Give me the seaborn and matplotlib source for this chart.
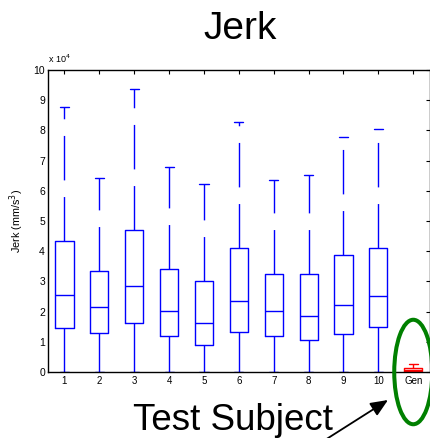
import numpy as np
import pandas as pd
import seaborn as sns
import matplotlib
matplotlib.use("Agg")
import matplotlib.pyplot as plt
from matplotlib.patches import Ellipse

# Values in units of 10^4 mm/s^3
groups = ['1', '2', '3', '4', '5', '6', '7', '8', '9', '10', 'Gen']
whisker_low = [0, 0, 0, 0, 0, 0, 0, 0, 0, 0, 0]
q1 = [1.45, 1.28, 1.61, 1.18, 0.88, 1.31, 1.20, 1.05, 1.26, 1.50, 0.02]
median = [2.56, 2.14, 2.84, 2.02, 1.63, 2.35, 2.02, 1.84, 2.23, 2.52, 0.06]
q3 = [4.35, 3.33, 4.70, 3.42, 3.01, 4.12, 3.25, 3.25, 3.86, 4.10, 0.12]
whisker_high = [8.77, 6.41, 9.36, 6.80, 6.23, 8.29, 6.35, 6.51, 7.77, 8.04, 0.25]
box_colors = ['#0000ff'] * 10 + ['#ff0000']

rows = []
for g, lo, a, m, b, hi in zip(groups, whisker_low, q1, median, q3, whisker_high):
    for v in (lo, a, m, b, hi):
        rows.append({'group': g, 'value': v})
df = pd.DataFrame(rows)

sns.set_style("white")
plt.rcParams['font.family'] = ['Liberation Sans', 'DejaVu Sans']
plt.rcParams['lines.scale_dashes'] = False
plt.rcParams['text.color'] = 'black'
plt.rcParams['axes.labelcolor'] = 'black'
plt.rcParams['xtick.color'] = 'black'
plt.rcParams['ytick.color'] = 'black'

fig = plt.figure(figsize=(4.30, 4.38), dpi=100)
ax = fig.add_axes([47.7 / 430, 1 - 372 / 438, 1 - 47.7 / 430, (372 - 70) / 438])

sns.boxplot(data=df, x='group', y='value', hue='group', order=groups,
            hue_order=groups, palette=dict(zip(groups, box_colors)),
            fill=False, width=0.52, whis=(0, 100), linewidth=1.0,
            showfliers=False, legend=False, ax=ax)

# MATLAB-style dashed upper whiskers (dash pattern starts at the box)
for ln in ax.lines:
    xd = np.asarray(ln.get_xdata(), dtype=float)
    yd = np.asarray(ln.get_ydata(), dtype=float)
    if len(xd) == 2 and np.isclose(xd[0], xd[1]) and min(yd) > 0.05:
        ln.set_data(xd, np.sort(yd))
        ln.set_linestyle((0, (32, 12)))

ax.set_xlim(-0.48, 10.48)
ax.set_ylim(0, 10)
ax.set_yticks(range(0, 11))
ax.set_yticklabels([str(i) for i in range(0, 11)], fontsize=7.5)
ax.set_xticks(range(len(groups)))
ax.set_xticklabels(groups, fontsize=7)
ax.tick_params(axis='both', direction='in', length=3, width=0.8,
               top=True, right=True, pad=3, colors='black')
ax.tick_params(axis='y', pad=2)
for s in ax.spines.values():
    s.set_visible(True)
    s.set_color('black')
    s.set_linewidth(1.0)
ax.set_xlabel('')
ax.set_ylabel('Jerk (mm/s$^3$)', fontsize=7.8, labelpad=5)

ax.text(0.0, 1.015, 'x 10$^4$', transform=ax.transAxes, fontsize=6.5,
        ha='left', va='bottom')

fig.text(240 / 430, 1 - 39 / 438, 'Jerk', fontsize=28, ha='center',
         va='baseline')

# Annotation: circle round the test subject and arrow
ell = Ellipse((10, 0), width=1.09, height=3.46, fill=False,
              edgecolor='#008000', linewidth=2.9, clip_on=False, zorder=5)
ax.add_patch(ell)

fig.text(233 / 430, 1 - 430 / 438, 'Test Subject', fontsize=26.5,
         ha='center', va='baseline')
ax.annotate('', xy=(388, 438 - 400), xycoords='figure pixels',
            xytext=(325, 438 - 440), textcoords='figure pixels',
            arrowprops=dict(arrowstyle='-|>,head_length=0.7,head_width=0.3',
                            mutation_scale=15, lw=1.3, color='black',
                            shrinkA=0, shrinkB=0),
            annotation_clip=False)

fig.savefig('out.png', dpi=100)
